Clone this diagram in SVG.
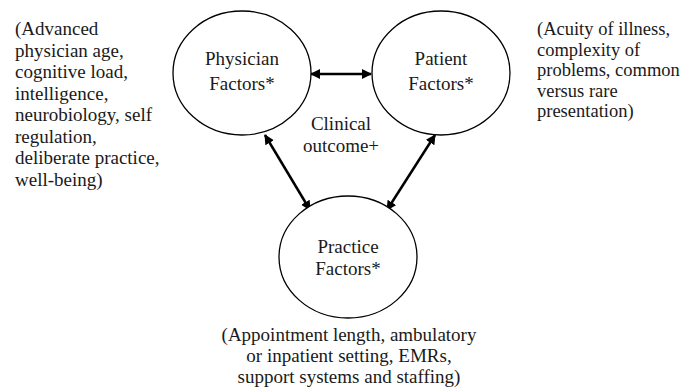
<svg xmlns="http://www.w3.org/2000/svg" width="683" height="389" viewBox="0 0 683 389">
<defs>
<style>
.n{fill:#fff;stroke:#000;stroke-width:1.3}
.t{font-family:"Liberation Serif","Times New Roman",serif;font-size:19px;fill:#1a1a1a}
.r{font-size:18.5px}
.c{stroke:#000;stroke-width:2.5;fill:none;marker-start:url(#ah);marker-end:url(#ah)}
</style>
<marker id="ah" viewBox="0 0 10 10" refX="9" refY="5" markerWidth="4" markerHeight="4" orient="auto-start-reverse" markerUnits="strokeWidth">
<path d="M0,0 L10,5 L0,10 z" fill="#000"/>
</marker>
</defs>
<rect width="683" height="389" fill="#fff"/>
<g id="connectors">
<line class="c" x1="311" y1="74" x2="371" y2="74"/>
<line class="c" x1="265" y1="135" x2="310" y2="210"/>
<line class="c" x1="435" y1="135" x2="387" y2="210"/>
</g>
<g id="physician">
<ellipse class="n" cx="242" cy="73" rx="69" ry="62"/>
<text class="t" x="242" y="65" text-anchor="middle">Physician</text>
<text class="t" x="242" y="90" text-anchor="middle">Factors*</text>
</g>
<g id="patient">
<ellipse class="n" cx="441" cy="73" rx="69" ry="62"/>
<text class="t" x="441" y="65" text-anchor="middle">Patient</text>
<text class="t" x="441" y="90" text-anchor="middle">Factors*</text>
</g>
<g id="practice">
<ellipse class="n" cx="348" cy="257" rx="69" ry="61"/>
<text class="t" x="348" y="253" text-anchor="middle">Practice</text>
<text class="t" x="348" y="275" text-anchor="middle">Factors*</text>
</g>
<g id="outcome">
<text class="t" x="341" y="130" text-anchor="middle">Clinical</text>
<text class="t" x="341" y="152" text-anchor="middle">outcome+</text>
</g>
<g id="physician-notes">
<text class="t"><tspan x="15" y="35">(Advanced</tspan><tspan x="15" y="56.5">physician age,</tspan><tspan x="15" y="78">cognitive load,</tspan><tspan x="15" y="99.5">intelligence,</tspan><tspan x="15" y="121">neurobiology, self</tspan><tspan x="15" y="142.5">regulation,</tspan><tspan x="15" y="164">deliberate practice,</tspan><tspan x="15" y="185.5">well-being)</tspan></text>
</g>
<g id="patient-notes">
<text class="t r"><tspan x="537" y="35">(Acuity of illness,</tspan><tspan x="537" y="55.5">complexity of</tspan><tspan x="537" y="76">problems, common</tspan><tspan x="537" y="96.5">versus rare</tspan><tspan x="537" y="117">presentation)</tspan></text>
</g>
<g id="practice-notes">
<text class="t" text-anchor="middle"><tspan x="349" y="341">(Appointment length, ambulatory</tspan><tspan x="349" y="362">or inpatient setting, EMRs,</tspan><tspan x="349" y="383">support systems and staffing)</tspan></text>
</g>
</svg>
